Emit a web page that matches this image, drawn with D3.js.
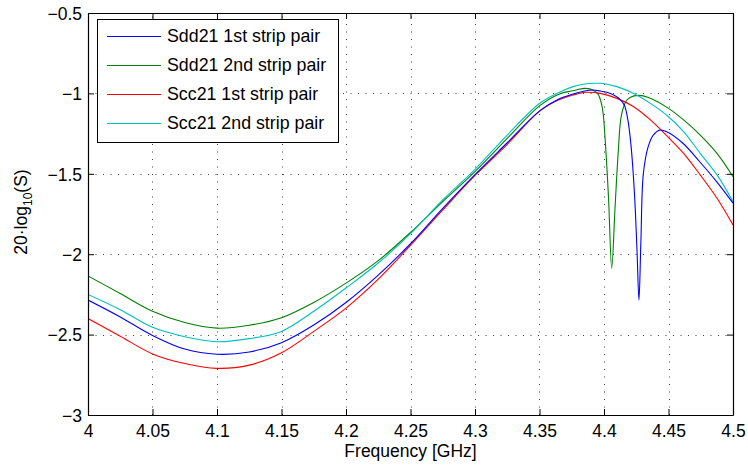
<!DOCTYPE html>
<html><head><meta charset="utf-8">
<script src="https://cdn.jsdelivr.net/npm/d3@7"></script>
<style>
body{margin:0;background:#fff;}
text{font-family:"Liberation Sans",Arial,Helvetica,sans-serif;}
</style></head>
<body><svg id="c" width="748" height="465"></svg>
<script>
const xTicks = [4, 4.05, 4.1, 4.15, 4.2, 4.25, 4.3, 4.35, 4.4, 4.45, 4.5];
const xTickLabels = ["4","4.05","4.1","4.15","4.2","4.25","4.3","4.35","4.4","4.45","4.5"];
const yTicks = [-3, -2.5, -2, -1.5, -1, -0.5];
const yTickLabels = ["\u22123","\u22122.5","\u22122","\u22121.5","\u22121","\u22120.5"];
const seriesNames = ["Sdd21 1st strip pair","Sdd21 2nd strip pair","Scc21 1st strip pair","Scc21 2nd strip pair"];
const seriesColors = ["#0000ff","#008000","#ff0000","#00bfbf"];

const baseF = [4.0,4.025,4.05,4.075,4.1,4.125,4.15,4.175,4.2,4.225,4.25,4.275,4.3,4.325,4.35,4.365,4.376];

// Sdd21 1st strip pair (blue)
const sdd1F = baseF.concat([4.385,4.391,4.397,4.405,4.4115,4.4157,4.4183,4.4209,4.4236,4.4256,4.4271,4.4286,4.4305,4.4343,4.4382,4.4434,4.4486,4.4612,4.4742,4.4873,4.5]);
const sdd1V = [-2.285,-2.39,-2.505,-2.59,-2.622,-2.608,-2.55,-2.44,-2.3,-2.13,-1.935,-1.715,-1.505,-1.307,-1.11,-1.035,-1.004,
  -0.985,-0.979,-0.985,-1.0,-1.03,-1.072,-1.155,-1.32,-1.62,-1.98,-2.285,-1.92,-1.5,-1.33,-1.259,-1.228,-1.238,-1.31,-1.425,-1.549,-1.683];

// Sdd21 2nd strip pair (green)
const sdd2F = baseF.concat([4.385,4.39,4.395,4.3985,4.401,4.4035,4.406,4.4085,4.411,4.4134,4.417,4.4202,4.4266,4.435,4.45,4.4617,4.4746,4.4876,4.5]);
const sdd2V = [-2.135,-2.245,-2.355,-2.425,-2.46,-2.442,-2.395,-2.3,-2.18,-2.04,-1.865,-1.673,-1.487,-1.28,-1.078,-1.005,-0.983,
  -0.969,-0.975,-1.0,-1.08,-1.3,-1.65,-2.088,-1.72,-1.37,-1.14,-1.05,-1.025,-1.012,-1.027,-1.093,-1.165,-1.259,-1.373,-1.518];

// Scc21 1st strip pair (red)
const scc1F = baseF.concat([4.386,4.397,4.41,4.423,4.436,4.45,4.4617,4.4746,4.4876,4.5]);
const scc1V = [-2.4,-2.51,-2.62,-2.68,-2.71,-2.69,-2.613,-2.48,-2.335,-2.155,-1.945,-1.725,-1.51,-1.317,-1.11,-1.04,-1.01,
  -0.993,-1.0,-1.031,-1.083,-1.165,-1.275,-1.373,-1.507,-1.652,-1.818];

// Scc21 2nd strip pair (cyan)
const scc2F = baseF.concat([4.385,4.393,4.3995,4.41,4.423,4.436,4.45,4.4617,4.4746,4.4876,4.5]);
const scc2V = [-2.25,-2.345,-2.455,-2.513,-2.544,-2.525,-2.48,-2.355,-2.21,-2.055,-1.872,-1.663,-1.472,-1.259,-1.063,-0.995,-0.958,
  -0.942,-0.937,-0.938,-0.958,-1.0,-1.062,-1.145,-1.238,-1.373,-1.507,-1.673];

const seriesF = [sdd1F, sdd2F, scc1F, scc2F];
const seriesV = [sdd1V, sdd2V, scc1V, scc2V];

const L = 88, R = 733, T = 13, B = 415;
const svg = d3.select("#c");
const x = d3.scaleLinear().domain([4, 4.5]).range([L, R]);
const y = d3.scaleLinear().domain([-3, -0.5]).range([B, T]);
const FS = 17.5, LFS = 17.8;

// grid
const grid = svg.append("g").attr("stroke","#000").attr("stroke-width",1).attr("stroke-dasharray","1,6.5").attr("opacity",0.75);
xTicks.slice(1,-1).forEach(t => grid.append("line").attr("x1",Math.round(x(t))+0.5).attr("x2",Math.round(x(t))+0.5).attr("y1",B).attr("y2",T));
yTicks.slice(1,-1).forEach(t => grid.append("line").attr("y1",Math.round(y(t))+0.5).attr("y2",Math.round(y(t))+0.5).attr("x1",L).attr("x2",R));

// lines
svg.append("clipPath").attr("id","pc").append("rect").attr("x",L).attr("y",T).attr("width",R-L).attr("height",B-T);
const lineGen = d3.line().curve(d3.curveCatmullRom.alpha(0.5));
const lg = svg.append("g").attr("clip-path","url(#pc)");
[1,3,2,0].forEach(i => {
  const pts = seriesF[i].map((f,j) => [x(f), y(seriesV[i][j])]);
  lg.append("path").attr("d", lineGen(pts)).attr("fill","none").attr("stroke",seriesColors[i]).attr("stroke-width",1.1);
});

// axes (box with inward ticks)
const xAxisB = d3.axisBottom(x).tickValues(xTicks).tickFormat((d,i)=>xTickLabels[i]).tickSizeInner(-6).tickSizeOuter(0).tickPadding(10);
const gxb = svg.append("g").attr("transform",`translate(0,${B})`).call(xAxisB);
const xAxisT = d3.axisTop(x).tickValues(xTicks).tickFormat("").tickSizeInner(-6).tickSizeOuter(0);
const gxt = svg.append("g").attr("transform",`translate(0,${T})`).call(xAxisT);
const yAxisL = d3.axisLeft(y).tickValues(yTicks).tickFormat((d,i)=>yTickLabels[i]).tickSizeInner(-6).tickSizeOuter(0).tickPadding(6);
const gyl = svg.append("g").attr("transform",`translate(${L},0)`).call(yAxisL);
const yAxisR = d3.axisRight(y).tickValues(yTicks).tickFormat("").tickSizeInner(-6).tickSizeOuter(0);
const gyr = svg.append("g").attr("transform",`translate(${R},0)`).call(yAxisR);
[gxb,gxt,gyl,gyr].forEach(g=>{
  g.select(".domain").attr("stroke","#000").attr("stroke-width",1.2);
  g.selectAll(".tick line").attr("stroke","#000");
  g.selectAll("text").attr("font-size",FS).attr("fill","#000").style("font-family","'Liberation Sans',Arial,sans-serif");
});
gyl.selectAll(".tick text").attr("dy","0.36em");

// axis labels
svg.append("text").attr("x",(L+R)/2).attr("y",457).attr("text-anchor","middle").attr("font-size",FS).text("Frequency [GHz]");
const yl = svg.append("text").attr("transform",`translate(27,212) rotate(-90)`).attr("text-anchor","middle").attr("font-size",FS);
yl.append("tspan").text("20\u00B7log");
yl.append("tspan").attr("font-size",12).attr("dy",5).text("10");
yl.append("tspan").attr("dy",-5).text("(S)");

// legend
const lgX = 97, lgY = 19, lgW = 241, lgH = 123;
svg.append("rect").attr("x",lgX+0.5).attr("y",lgY+0.5).attr("width",lgW).attr("height",lgH).attr("fill","#fff").attr("stroke","#000").attr("stroke-width",1);
const rowY = [36, 65, 94, 123];
seriesNames.forEach((n,i)=>{
  svg.append("line").attr("x1",107).attr("x2",161).attr("y1",rowY[i]+0.5).attr("y2",rowY[i]+0.5).attr("stroke",seriesColors[i]).attr("stroke-width",1.1);
  svg.append("text").attr("x",167).attr("y",rowY[i]).attr("dy","0.36em").attr("font-size",LFS).text(n);
});
</script>
</body></html>
